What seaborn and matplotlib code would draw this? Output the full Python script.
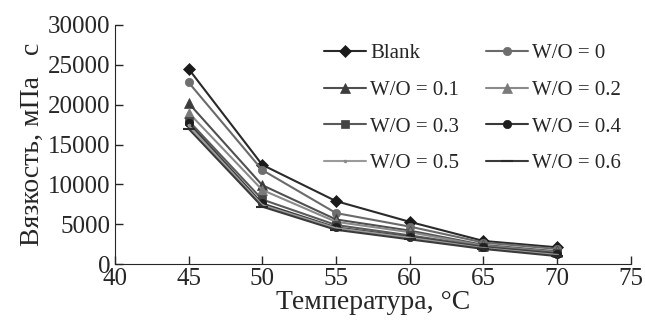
import pandas as pd
import numpy as np
import matplotlib
matplotlib.use("Agg")
import matplotlib.pyplot as plt
import seaborn as sns

temps = [45, 50, 55, 60, 65, 70]
labels = ["Blank", "W/O = 0", "W/O = 0.1", "W/O = 0.2",
          "W/O = 0.3", "W/O = 0.4", "W/O = 0.5", "W/O = 0.6"]
blank = [24500, 12450, 7900, 5300, 2900, 2100]
wo_0 = [22800, 11800, 6400, 4700, 2700, 1900]
wo_01 = [20200, 9900, 5600, 4200, 2400, 1600]
wo_02 = [19000, 9300, 5300, 4000, 2300, 1500]
wo_03 = [18000, 8100, 4900, 3600, 2200, 1400]
wo_04 = [17700, 7600, 4600, 3400, 2100, 1300]
wo_05 = [17400, 7400, 4500, 3300, 2000, 1150]
wo_06 = [17000, 7200, 4300, 3100, 1900, 1000]
series = [blank, wo_0, wo_01, wo_02, wo_03, wo_04, wo_05, wo_06]

markers = ["D", "o", "^", "^", "s", "o", ".", "_"]
msizes = [6, 6, 7, 7, 6, 6, 4, 8]
mcolors = ["#1a1a1a", "#6e6e6e", "#3c3c3c", "#7a7a7a", "#454545", "#1e1e1e", "#8a8a8a", "#2a2a2a"]
lcolors = ["#2a2a2a", "#6a6a6a", "#505050", "#8a8a8a", "#5a5a5a", "#3a3a3a", "#9a9a9a", "#3a3a3a"]

rows = []
for lab, vals in zip(labels, series):
    for t, v in zip(temps, vals):
        rows.append({"T": t, "visc": v, "series": lab})
df = pd.DataFrame(rows)

sns.set_style("ticks")
plt.rcParams['font.family'] = ['Liberation Serif', 'DejaVu Serif']

fig = plt.figure(figsize=(6.45, 3.24), dpi=100)
ax = fig.add_axes([0.178, 0.185, 0.8, 0.738])

for i, lab in enumerate(labels):
    sns.lineplot(data=df[df["series"] == lab], x="T", y="visc", ax=ax,
                 color=lcolors[i], marker=markers[i], markersize=msizes[i],
                 markerfacecolor=mcolors[i], markeredgecolor=mcolors[i],
                 markeredgewidth=1.5 if markers[i] == "_" else 0.5,
                 linewidth=1.5, label=lab)

ax.set_xlim(40, 75)
ax.set_ylim(0, 30000)
ax.set_xticks(range(40, 80, 5))
ax.set_yticks(range(0, 30001, 5000))
ax.tick_params(direction="in", labelsize=18, length=6, width=1, pad=3)
ax.set_xlabel("Температура, °C", fontsize=20, labelpad=0)
ax.set_ylabel("Вязкость, мПа   с", fontsize=20, labelpad=2)
sns.despine(ax=ax)

# row-major order for the two-column legend
h, l = ax.get_legend_handles_labels()
order = [0, 2, 4, 6, 1, 3, 5, 7]
ax.legend([h[k] for k in order], [l[k] for k in order], ncol=2, frameon=False,
          fontsize=15, loc="upper left", bbox_to_anchor=(0.37, 1.0),
          handlelength=2.0, handletextpad=0.2, columnspacing=1.3,
          labelspacing=0.82)

fig.savefig("out.png", dpi=100)
